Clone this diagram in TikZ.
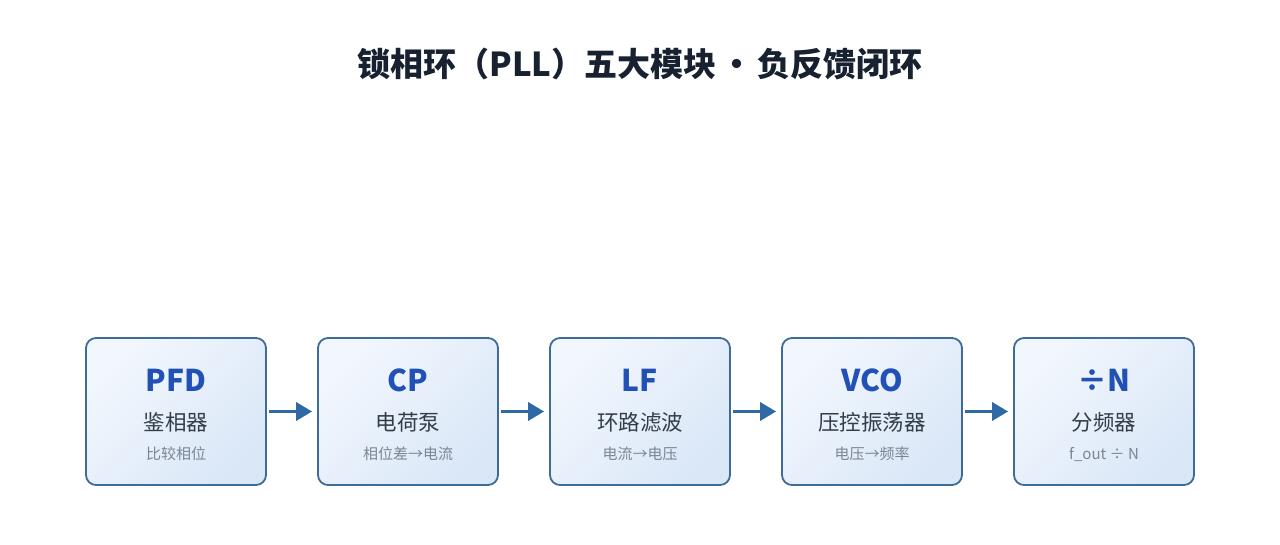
\documentclass[tikz,border=0pt]{standalone}
\usepackage{fontspec}
\setmainfont{Noto Sans CJK SC}
\usetikzlibrary{arrows.meta, positioning}
\definecolor{boxedge}{HTML}{3D6C98}
\definecolor{boxtop}{HTML}{F2F7FD}
\definecolor{boxbot}{HTML}{DAE7F7}
\definecolor{abbrblue}{HTML}{2251B5}
\definecolor{labelgray}{HTML}{333D49}
\definecolor{subgray}{HTML}{7B8593}
\definecolor{arrowblue}{HTML}{2F6AA6}
\definecolor{titledark}{HTML}{172130}

\begin{document}
\begin{tikzpicture}[x=1pt, y=1pt,
    block/.style={draw=boxedge, line width=1.8pt, rounded corners=10pt, minimum width=180pt, minimum height=147pt, inner sep=0pt, top color=boxtop, bottom color=boxbot, shading angle=45},
    abbr/.style={text=abbrblue, font=\fontsize{30}{34}\selectfont\bfseries, inner sep=0pt},
    cname/.style={text=labelgray, font=\fontsize{21.5}{24}\selectfont, inner sep=0pt},
    hint/.style={text=subgray, font=\fontsize{15}{17}\selectfont, inner sep=0pt},
    flow/.style={arrowblue, line width=3.5pt, -{Triangle[length=16pt, width=18pt]}, shorten <=2pt, shorten >=5pt}]
    \useasboundingbox (0, 0) rectangle (1280, 544);
    \node[text=titledark, font=\fontsize{33}{38}\selectfont\bfseries] (title) at (640, 480) {锁相环（PLL）五大模块\hspace{4pt}•\hspace{4pt}负反馈闭环};

    \node[block] (pfd) at (176, 132.5) {};
    \node[block] (cp) at (408, 132.5) {};
    \node[block] (lf) at (640, 132.5) {};
    \node[block] (vco) at (872, 132.5) {};
    \node[block] (div) at (1104, 132.5) {};

    \node[abbr] (pfd-abbr) at ([yshift=31.5pt]pfd.center) {PFD};
    \node[cname] (pfd-name) at ([yshift=-10.5pt]pfd.center) {鉴相器};
    \node[hint] (pfd-hint) at ([yshift=-42.5pt]pfd.center) {比较相位};

    \node[abbr] (cp-abbr) at ([yshift=31.5pt]cp.center) {CP};
    \node[cname] (cp-name) at ([yshift=-10.5pt]cp.center) {电荷泵};
    \node[hint] (cp-hint) at ([yshift=-42.5pt]cp.center) {相位差→电流};

    \node[abbr] (lf-abbr) at ([yshift=31.5pt]lf.center) {LF};
    \node[cname] (lf-name) at ([yshift=-10.5pt]lf.center) {环路滤波};
    \node[hint] (lf-hint) at ([yshift=-42.5pt]lf.center) {电流→电压};

    \node[abbr] (vco-abbr) at ([yshift=31.5pt]vco.center) {VCO};
    \node[cname] (vco-name) at ([yshift=-10.5pt]vco.center) {压控振荡器};
    \node[hint] (vco-hint) at ([yshift=-42.5pt]vco.center) {电压→频率};

    \node[abbr] (div-abbr) at ([yshift=31.5pt]div.center) {÷N};
    \node[cname] (div-name) at ([yshift=-10.5pt]div.center) {分频器};
    \node[hint] (div-hint) at ([yshift=-42.5pt]div.center) {f\_out ÷ N};

    \draw[flow] (pfd) -- (cp);
    \draw[flow] (cp) -- (lf);
    \draw[flow] (lf) -- (vco);
    \draw[flow] (vco) -- (div);
\end{tikzpicture}
\end{document}
